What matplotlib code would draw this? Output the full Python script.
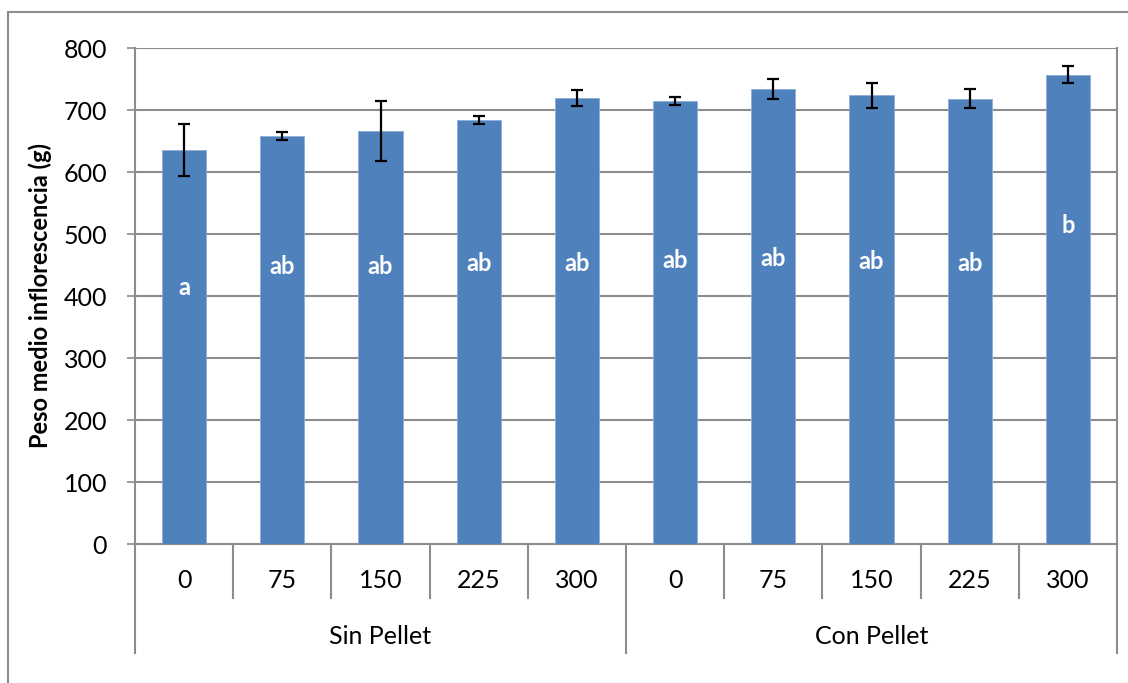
import matplotlib
matplotlib.use("Agg")
import matplotlib.pyplot as plt
from matplotlib.patches import Rectangle
from matplotlib.lines import Line2D

# Data
doses = ["0", "75", "150", "225", "300", "0", "75", "150", "225", "300"]
groups = ["Sin Pellet", "Con Pellet"]
means = [636, 658, 666, 684, 719, 714, 734, 724, 718, 757]
errors = [42, 7, 48, 6.5, 12.5, 6.5, 15.5, 20, 15.5, 14]
letters = ["a", "ab", "ab", "ab", "ab", "ab", "ab", "ab", "ab", "b"]
letter_y = [414, 448, 448, 453, 453, 458, 460, 455, 453, 513]
y_ticks = [0, 100, 200, 300, 400, 500, 600, 700, 800]

W, H = 1128, 683
fig = plt.figure(figsize=(W / 100, H / 100), dpi=100)
fig.patch.set_facecolor("white")

# Chart frame
fig.add_artist(Rectangle((8 / W, -0.01), 1.2, 1 - 12 / H + 0.01, transform=fig.transFigure,
                         fill=False, edgecolor="#8c8c8c", linewidth=1.5))

left, right, top, bottom = 135, 1117, 48, 544
ax = fig.add_axes([left / W, 1 - bottom / H, (right - left) / W, (bottom - top) / H])

grid_c = "#8c8c8c"
font = "Lato"
x = list(range(len(means)))
ax.bar(x, means, width=0.45, color="#4f81bd", edgecolor="#8eaed6", linewidth=0.6, zorder=3)
ax.errorbar(x, means, yerr=errors, fmt="none", ecolor="black", elinewidth=1.6,
            capsize=4.5, capthick=1.6, zorder=4)

for xi, ly, lab in zip(x, letter_y, letters):
    ax.text(xi, ly, lab, ha="center", va="center", color="white",
            fontsize=17, fontweight="bold", family=font, zorder=5)

ax.set_xlim(-0.5, len(means) - 0.5)
ax.set_ylim(0, 800)
ax.set_yticks(y_ticks)
ax.set_yticklabels([str(v) for v in y_ticks], fontsize=18, family=font)
ax.yaxis.grid(True, color=grid_c, linewidth=1.5, zorder=0)
ax.set_axisbelow(True)
ax.tick_params(axis="y", length=6, width=1.2, color=grid_c, pad=14)
ax.set_xticks([])
for s in ["top", "right", "bottom"]:
    ax.spines[s].set_visible(False)
ax.spines["left"].set_color(grid_c)
ax.spines["left"].set_linewidth(1.5)

ax.set_ylabel("Peso medio inflorescencia (g)", fontsize=17, fontweight="bold",
              family=font, labelpad=8)

# Category axis drawn below the plot area
px = 1.0 / (bottom - top)
tr = ax.get_xaxis_transform()
def vline(xd, y0_px, y1_px, color=grid_c):
    ax.add_line(Line2D([xd, xd], [-y0_px * px, -y1_px * px], transform=tr,
                       color=color, linewidth=1.5, clip_on=False))

ax.add_line(Line2D([-0.5, len(means) - 0.5], [0, 0], transform=tr, color=grid_c,
                   linewidth=1.5, clip_on=False))
for b in [-0.5, 4.5, 9.5]:
    vline(b, 0, 109)
for b in [0.5, 1.5, 2.5, 3.5, 5.5, 6.5, 7.5, 8.5]:
    vline(b, 0, 54)
# right edge of the plot area
ax.add_line(Line2D([9.5, 9.5], [0, 1], transform=tr, color=grid_c, linewidth=1.5, clip_on=False))

for xi, d in zip(x, doses):
    ax.text(xi, -37 * px, d, transform=tr, ha="center", va="center", fontsize=18,
            family=font)
for gi, g in enumerate(groups):
    ax.text(gi * 5 + 2, -92 * px, g, transform=tr, ha="center", va="center", fontsize=18,
            family=font)

fig.savefig("out.png", dpi=100)
